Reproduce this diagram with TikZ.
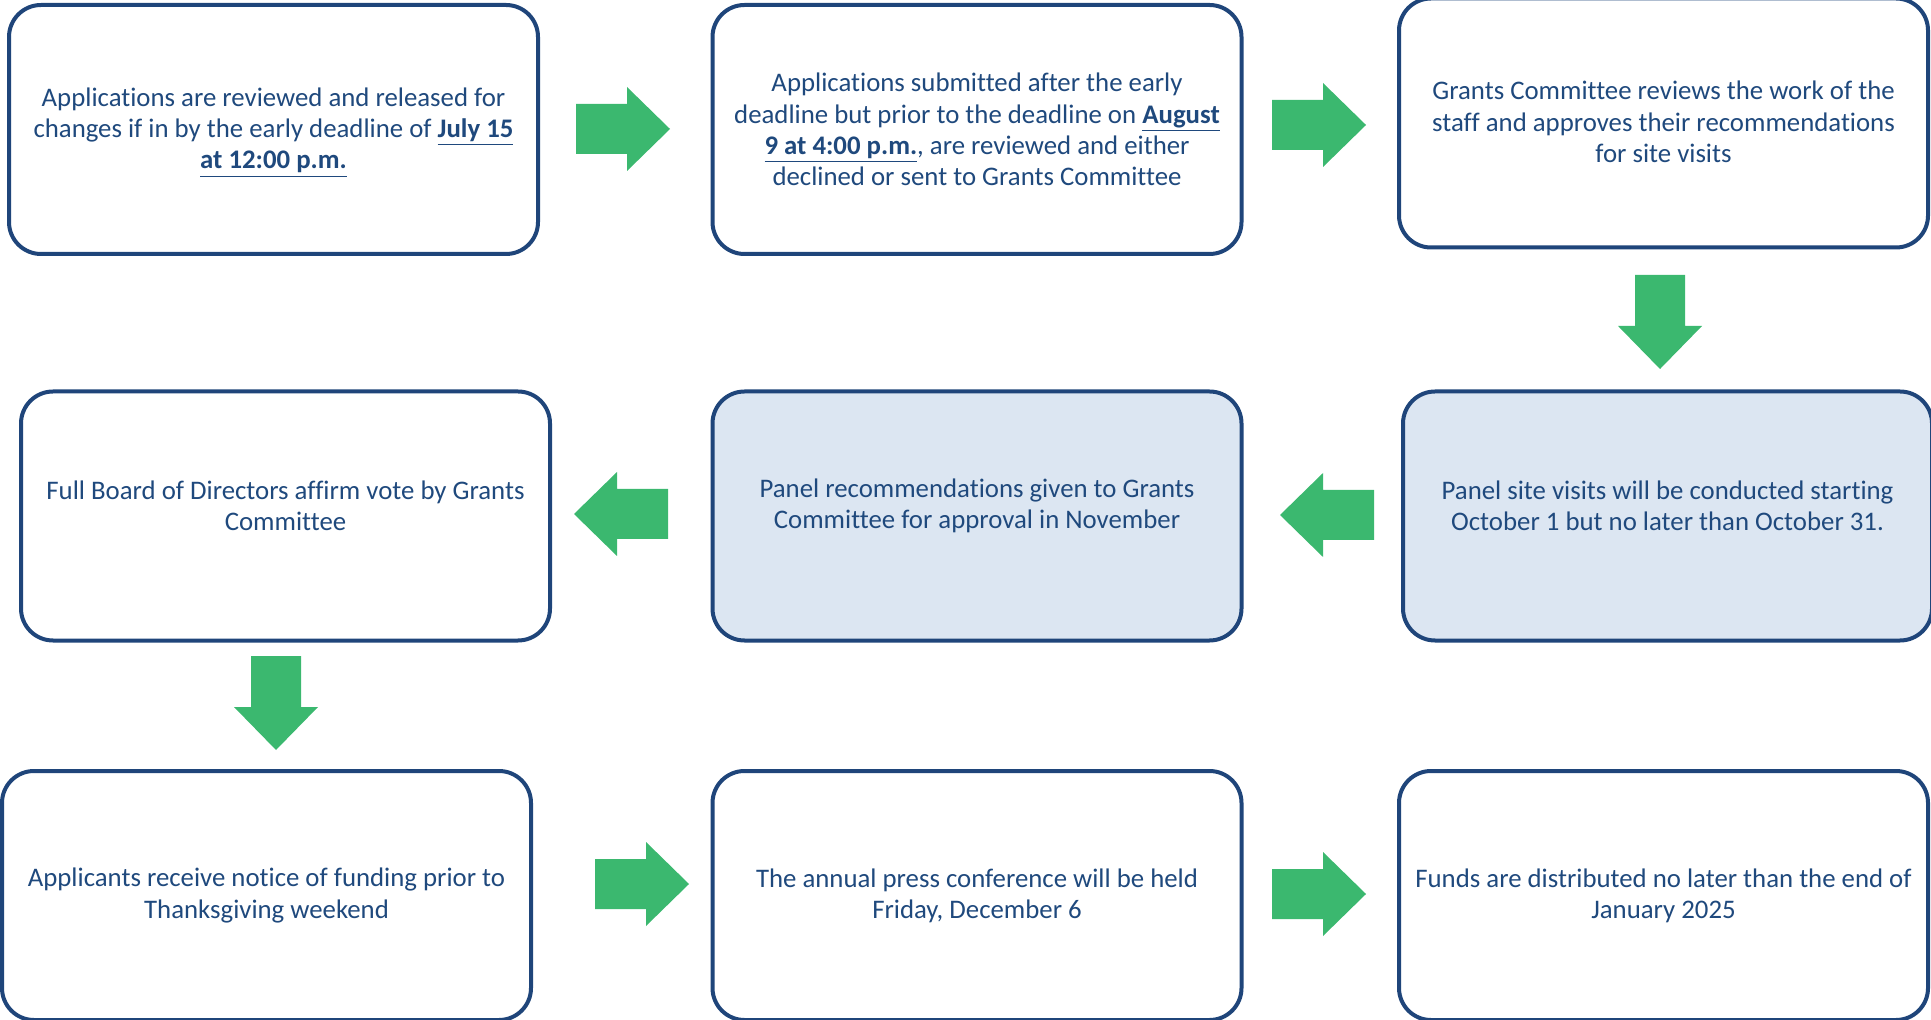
\documentclass[tikz,border=0pt]{standalone}
\usepackage{fontspec}
\setmainfont{Carlito}[Ligatures=NoCommon]
\usetikzlibrary{calc}
\definecolor{bord}{HTML}{1F457A}
\definecolor{txtc}{HTML}{1F497D}
\definecolor{arrg}{HTML}{3BB86F}
\definecolor{lite}{HTML}{DCE6F2}
\tikzset{
  box/.style={draw=bord, line width=2pt, rounded corners=16pt, fill=white,
    minimum width=264.5pt, minimum height=124.5pt, inner sep=0pt},
  litebox/.style={box, fill=lite},
  txt/.style={text=txtc, align=center, inner sep=0pt,
    font=\fontsize{13.4pt}{15.6pt}\selectfont},
  arr/.style={fill=arrg}
}
\newcommand{\ul}[1]{\underline{\textbf{#1}}}
\newcommand{\rarr}[2]{\fill[arr] (#1,#2-25) -- ++(51,0) -- ++(0,-17) -- ++(43,42) -- ++(-43,42) -- ++(0,-17) -- ++(-51,0) -- cycle;}
\newcommand{\larr}[2]{\fill[arr] (#1,#2) -- ++(43,-42) -- ++(0,17) -- ++(51,0) -- ++(0,50) -- ++(-51,0) -- ++(0,17) -- cycle;}
\newcommand{\darr}[2]{\fill[arr] (#1-25,#2) -- ++(50,0) -- ++(0,51) -- ++(17,0) -- ++(-42,43) -- ++(-42,-43) -- ++(17,0) -- cycle;}
\begin{document}
\begin{tikzpicture}[x=0.5pt,y=-0.5pt]
\useasboundingbox (0,0) rectangle (1931,1020);
\clip (0,0) rectangle (1931,1020);
% boxes
\node[box] (A) at (273.5,129.5) {};
\node[box] (B) at (977,129.5) {};
\node[box] (C) at (1663.5,123) {};
\node[box] (D) at (285.5,516) {};
\node[litebox] (E) at (977,516) {};
\node[litebox] (F) at (1667.5,516) {};
\node[box] (G) at (266.5,895.5) {};
\node[box] (H) at (977,895.5) {};
\node[box] (I) at (1663.5,895.5) {};
% texts
\node[txt] (tA) at ($(A.center)+(0,3)$) {Applications are reviewed and released for\\changes if in by the early deadline of \ul{July 15}\\\ul{at 12:00 p.m.}};
\node[txt] (tB) at ($(B.center)+(0,0)$) {Applications submitted after the early\\deadline but prior to the deadline on \ul{August}\\\ul{9 at 4:00 p.m.}, are reviewed and either\\declined or sent to Grants Committee};
\node[txt] (tC) at ($(C.center)+(0,-1)$) {Grants Committee reviews the work of the\\staff and approves their recommendations\\for site visits};
\node[txt] (tD) at ($(D.center)+(0,-10)$) {Full Board of Directors affirm vote by Grants\\Committee};
\node[txt] (tE) at ($(E.center)+(0,-10)$) {Panel recommendations given to Grants\\Committee for approval in November};
\node[txt] (tF) at ($(F.center)+(0,-10)$) {Panel site visits will be conducted starting\\October 1 but no later than October 31.};
\node[txt] (tG) at ($(G.center)+(0,0)$) {Applicants receive notice of funding prior to\\Thanksgiving weekend};
\node[txt] (tH) at ($(H.center)+(0,0)$) {The annual press conference will be held\\Friday, December 6};
\node[txt] (tI) at ($(I.center)+(0,0)$) {Funds are distributed no later than the end of\\January 2025};
% block arrows
\rarr{576}{129}
\rarr{1272}{125}
\darr{1660}{275}
\larr{1280}{515}
\larr{574}{514}
\darr{276}{656}
\rarr{595}{884}
\rarr{1272}{894}
\end{tikzpicture}
\end{document}
